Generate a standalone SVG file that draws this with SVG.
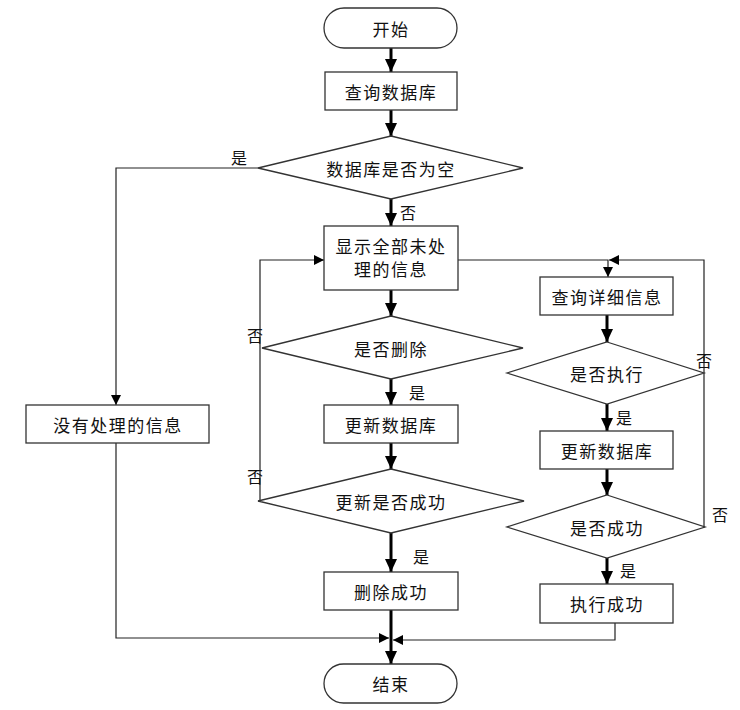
<svg xmlns="http://www.w3.org/2000/svg" width="740" height="710" viewBox="0 0 740 710">
<style>
.box{fill:#fff;stroke:#333;stroke-width:1.3}
.t{font-family:"Noto Sans CJK SC","Liberation Sans",sans-serif;font-size:17px;fill:#111;text-anchor:middle;dominant-baseline:central;letter-spacing:1.5px}
.lb{font-family:"Noto Sans CJK SC","Liberation Sans",sans-serif;font-size:16px;fill:#111;text-anchor:middle;dominant-baseline:central}
.thick{fill:none;stroke:#000;stroke-width:3}
.thin{fill:none;stroke:#222;stroke-width:1.2}
</style>
<defs>
<marker id="ak" markerUnits="userSpaceOnUse" markerWidth="14" markerHeight="12" refX="13" refY="6" orient="auto">
<path d="M0,0 L13,6 L0,12 z" fill="#000"/>
</marker>
<marker id="an" markerUnits="userSpaceOnUse" markerWidth="11" markerHeight="10" refX="10" refY="5" orient="auto">
<path d="M0,0 L10,5 L0,10 z" fill="#000"/>
</marker>
</defs>
<g id="connectors">
<line class="thick" x1="391" y1="48" x2="391" y2="72" marker-end="url(#ak)"/>
<line class="thick" x1="391" y1="110" x2="391" y2="136" marker-end="url(#ak)"/>
<line class="thick" x1="391" y1="199" x2="391" y2="226" marker-end="url(#ak)"/>
<line class="thick" x1="391" y1="290" x2="391" y2="316" marker-end="url(#ak)"/>
<line class="thick" x1="391" y1="379" x2="391" y2="405" marker-end="url(#ak)"/>
<line class="thick" x1="391" y1="443" x2="391" y2="469" marker-end="url(#ak)"/>
<line class="thick" x1="391" y1="533" x2="391" y2="572" marker-end="url(#ak)"/>
<line class="thick" x1="391" y1="610" x2="391" y2="664" marker-end="url(#ak)"/>
<line class="thick" x1="607" y1="315" x2="607" y2="342" marker-end="url(#ak)"/>
<line class="thick" x1="607" y1="404" x2="607" y2="431" marker-end="url(#ak)"/>
<line class="thick" x1="607" y1="469" x2="607" y2="495" marker-end="url(#ak)"/>
<line class="thick" x1="607" y1="558" x2="607" y2="584" marker-end="url(#ak)"/>
<polyline class="thin" points="258,168 116,168 116,405" marker-end="url(#an)"/>
<polyline class="thin" points="116,443 116,638 389,638" marker-end="url(#an)"/>
<polyline class="thin" points="615,623 615,640 393,640" marker-end="url(#an)"/>
<polyline class="thin" points="458,260 608,260 608,277" marker-end="url(#an)"/>
<polyline class="thin" points="705,527 704,527 704,260 609,260" marker-end="url(#an)"/>
<polyline class="thin" points="258,501 260,501 260,260 324,260" marker-end="url(#an)"/>
</g>
<g id="start"><rect class="box" x="324" y="8" width="133" height="40" rx="20"/><text class="t" x="391" y="28">开始</text></g>
<g id="query-db"><rect class="box" x="325" y="72" width="132" height="38"/><text class="t" x="391" y="91">查询数据库</text></g>
<g id="db-empty"><polygon class="box" points="391,136 523,168 391,199 258,168"/><text class="t" x="391" y="168">数据库是否为空</text></g>
<g id="show-all"><rect class="box" x="324" y="226" width="134" height="64"/><text class="t" x="391" y="245">显示全部未处</text><text class="t" x="391" y="268">理的信息</text></g>
<g id="no-info"><rect class="box" x="26" y="405" width="183" height="38"/><text class="t" x="118" y="424">没有处理的信息</text></g>
<g id="delete-q"><polygon class="box" points="391,316 523,348 391,379 262,348"/><text class="t" x="391" y="348">是否删除</text></g>
<g id="update-db1"><rect class="box" x="324" y="405" width="134" height="38"/><text class="t" x="391" y="424">更新数据库</text></g>
<g id="update-ok"><polygon class="box" points="391,469 524,501 391,533 258,501"/><text class="t" x="391" y="501">更新是否成功</text></g>
<g id="delete-ok"><rect class="box" x="324" y="572" width="134" height="38"/><text class="t" x="391" y="591">删除成功</text></g>
<g id="query-detail"><rect class="box" x="540" y="277" width="133" height="38"/><text class="t" x="607" y="296">查询详细信息</text></g>
<g id="exec-q"><polygon class="box" points="607,342 704,373 607,404 507,373"/><text class="t" x="607" y="373">是否执行</text></g>
<g id="update-db2"><rect class="box" x="540" y="431" width="133" height="38"/><text class="t" x="607" y="450">更新数据库</text></g>
<g id="success-q"><polygon class="box" points="607,495 705,527 607,558 507,527"/><text class="t" x="607" y="527">是否成功</text></g>
<g id="exec-ok"><rect class="box" x="540" y="584" width="133" height="39"/><text class="t" x="607" y="603">执行成功</text></g>
<g id="end"><rect class="box" x="324" y="664" width="133" height="39" rx="19.5"/><text class="t" x="391" y="683">结束</text></g>
<g id="labels">
<text class="lb" x="239" y="157">是</text>
<text class="lb" x="408" y="212">否</text>
<text class="lb" x="255" y="335">否</text>
<text class="lb" x="255" y="476">否</text>
<text class="lb" x="417" y="392">是</text>
<text class="lb" x="421" y="556">是</text>
<text class="lb" x="704" y="360">否</text>
<text class="lb" x="624" y="417">是</text>
<text class="lb" x="720" y="514">否</text>
<text class="lb" x="628" y="570">是</text>
</g>
</svg>
